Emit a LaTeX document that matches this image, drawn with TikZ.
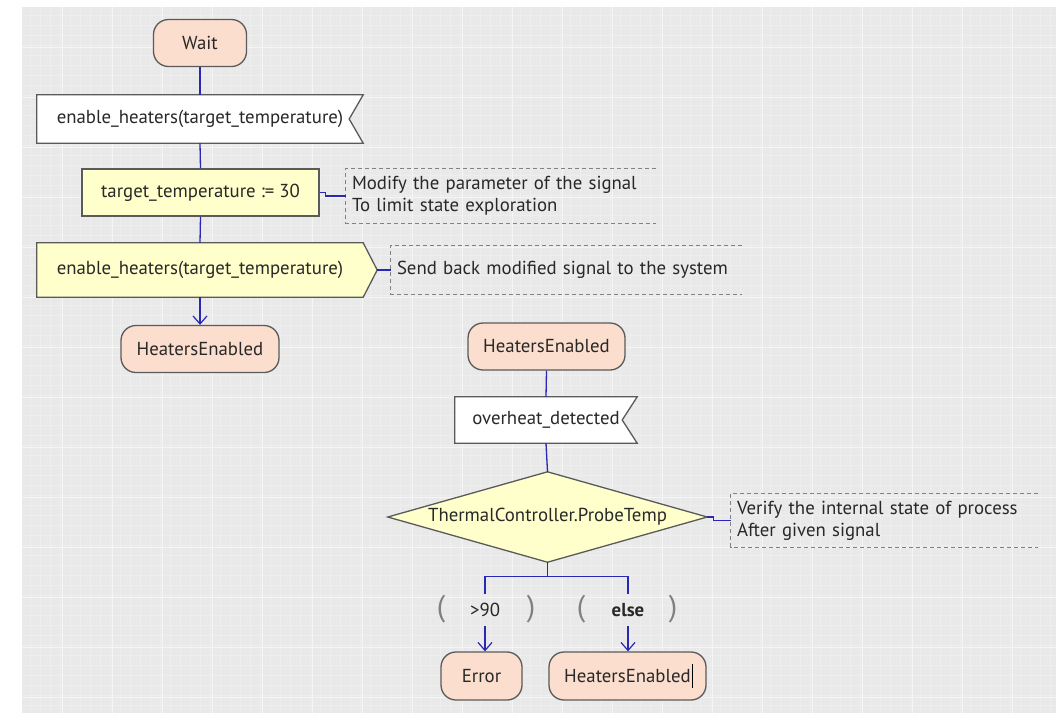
\documentclass[tikz,border=0pt]{standalone}
\usepackage{fontspec}
\setmainfont{PT Sans}
\usetikzlibrary{arrows.meta,calc}
\definecolor{linecol}{RGB}{40,40,180}
\definecolor{statefill}{RGB}{252,222,206}
\definecolor{taskfill}{RGB}{255,255,204}
\definecolor{edgecol}{RGB}{90,90,90}
\definecolor{bgcol}{RGB}{233,233,233}
\definecolor{gridminor}{RGB}{238,238,238}
\definecolor{gridmajor}{RGB}{245,245,245}
\definecolor{commentcol}{RGB}{130,130,130}
\definecolor{textcol}{RGB}{40,40,40}
\pgfdeclarelayer{gridlayer}
\pgfdeclarelayer{shapelayer}
\pgfsetlayers{gridlayer,shapelayer,main}
\begin{document}
\begin{tikzpicture}[x=1pt,y=-1pt,
  every node/.style={font=\fontsize{18.8}{22}\selectfont, text=textcol, inner sep=0pt},
  state/.style={rectangle, rounded corners=15pt, draw=edgecol, fill=statefill, line width=1.3pt},
  task/.style={rectangle, draw=edgecol, fill=taskfill, line width=1.3pt},
  box/.style={rectangle, draw=none},
  outline/.style={draw=edgecol, line width=1.3pt, line join=miter},
  comment/.style={rectangle, draw=none, align=left, inner xsep=6pt},
  cline/.style={draw=commentcol, dash pattern=on 4pt off 3pt, line width=0.9pt},
  conn/.style={draw=linecol, line width=1.3pt},
  arr/.style={conn, -{Straight Barb[length=8pt,width=14pt,line width=1.2pt]}},
  paren/.style={font=\fontsize{30}{30}\selectfont, text=gray},
]
\useasboundingbox (0,0) rectangle (1056,713);
% background
\begin{pgfonlayer}{gridlayer}
  \fill[white] (0,0) rectangle (1056,713);
  \fill[bgcol] (22,7) rectangle (1056,713);
  \foreach \gx in {30,40,...,1050} {\draw[gridminor, line width=0.5pt] (\gx,7) -- (\gx,713);}
  \foreach \gy in {15,25,...,705} {\draw[gridminor, line width=0.5pt] (22,\gy) -- (1056,\gy);}
  \foreach \gx in {62,112,...,1050} {\draw[gridmajor, line width=1pt] (\gx,7) -- (\gx,713);}
  \foreach \gy in {47,97,...,705} {\draw[gridmajor, line width=1pt] (22,\gy) -- (1056,\gy);}
\end{pgfonlayer}

% left column
\node[state, minimum width=93, minimum height=47] (wait) at (200,43) {Wait};
\node[box, minimum width=326, minimum height=48] (sig1) at (200,119) {enable\_heaters(target\_temperature)};
\node[task, minimum width=237, minimum height=47] (task) at (200.5,192.5) {target\_temperature := 30};
\node[comment, text width=298, minimum height=54] (c1) at (501,196) {Modify the parameter of the signal\\To limit state exploration};
\node[box, minimum width=326, minimum height=54] (sig2) at (200,270) {enable\_heaters(target\_temperature)};
\coordinate (sig2tip) at ($(sig2.east)+(14,0)$);
\node[comment, text width=339, minimum height=48] (c2) at (566.5,270) {Send back modified signal to the system};
\node[state, minimum width=158, minimum height=47] (he1) at (200,349) {HeatersEnabled};

% right column
\node[state, minimum width=157, minimum height=47] (he2) at (546.5,346.5) {HeatersEnabled};
\node[box, minimum width=182, minimum height=46] (sig3) at (546,420) {overheat\_detected};
\node[box, minimum width=319, minimum height=90] (dec) at (547.5,517) {ThermalController.ProbeTemp};
\node[comment, text width=295, minimum height=53] (c3) at (884.5,520.5) {Verify the internal state of process\\After given signal};
\node[box, minimum width=40, minimum height=32] (lab1) at (485,610) {>90};
\node[box, minimum width=40, minimum height=32] (lab2) at (628,610) {\bfseries else};
\node[paren] (lp1) at (441,609) {(};
\node[paren] (rp1) at (531,609) {)};
\node[paren] (lp2) at (581,609) {(};
\node[paren] (rp2) at (673,609) {)};
\node[state, minimum width=81, minimum height=48] (err) at (481.5,676) {Error};
\node[state, minimum width=157, minimum height=48] (he3) at (627.5,676) {HeatersEnabled};
\draw[black, line width=0.8pt] ($(he3.center)+(65,-12)$) -- ($(he3.center)+(65,12)$);

% special shapes
\begin{pgfonlayer}{shapelayer}
  \filldraw[outline, fill=white] (sig1.north west) -- (sig1.north east) -- ($(sig1.east)+(-14,0)$) -- (sig1.south east) -- (sig1.south west) -- cycle;
  \filldraw[outline, fill=taskfill] (sig2.north west) -- (sig2.north east) -- (sig2tip) -- (sig2.south east) -- (sig2.south west) -- cycle;
  \filldraw[outline, fill=white] (sig3.north west) -- (sig3.north east) -- ($(sig3.east)+(-15,0)$) -- (sig3.south east) -- (sig3.south west) -- cycle;
  \filldraw[outline, fill=taskfill] (dec.north) -- (dec.east) -- (dec.south) -- (dec.west) -- cycle;
\end{pgfonlayer}

% comment brackets
\draw[cline] (c1.north east) -- (c1.north west) -- (c1.south west) -- (c1.south east);
\draw[cline] (c2.north east) -- (c2.north west) -- (c2.south west) -- (c2.south east);
\draw[cline] (c3.north east) -- (c3.north west) -- (c3.south west) -- (c3.south east);

% connectors
\draw[conn] (wait.south) -- (sig1.north);
\draw[conn] (sig1.south) -- (task.north);
\draw[conn] (task.south) -- (sig2.north);
\draw[arr] (sig2.south) -- (he1.north);
\draw[conn] (task.east) -- ++(6,0) |- (c1.west);
\draw[conn] (sig2tip) -- (c2.west);
\draw[conn] (he2.south) -- (sig3.north);
\draw[conn] (sig3.south) -- (dec.north);
\draw[conn] (dec.east) -- ++(6,0) |- (c3.west);
\coordinate (split) at ($(dec.south)+(0,14)$);
\draw[conn] (dec.south) -- (split) -| (lab1.north);
\draw[conn] (split) -| (lab2.north);
\draw[arr] (lab1.south) -- (lab1.south |- err.north);
\draw[arr] (lab2.south) -- (lab2.south |- he3.north);
\end{tikzpicture}
\end{document}
